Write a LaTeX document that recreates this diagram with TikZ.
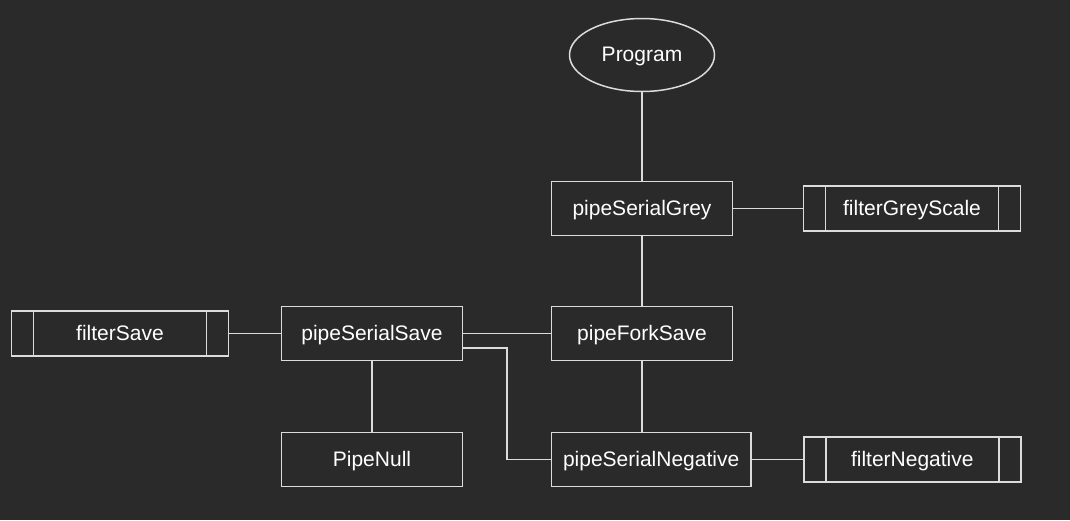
\documentclass[tikz,border=0pt]{standalone}
\usepackage{fontspec}
\setmainfont{Liberation Sans}
\usepackage{tikz}
\usetikzlibrary{positioning,shapes.geometric}
\definecolor{bg}{HTML}{2A2A2A}
\definecolor{ln}{HTML}{DCDCDC}
\tikzstyle{pipe} = [draw=ln, rectangle, outer sep=0pt, minimum width=181pt, minimum height=54pt, inner xsep=11.5pt]
\tikzstyle{filt} = [draw=ln, rectangle, outer sep=0pt, minimum width=217pt, minimum height=45pt]
\tikzstyle{prog} = [draw=ln, ellipse, outer sep=0pt, minimum width=145pt, minimum height=73pt, inner sep=0pt]

\begin{document}
\begin{tikzpicture}[x=1pt, y=1pt, line width=1.5pt, draw=ln]
  \tikzstyle{every node}=[text=white, text height=13.5pt, text depth=0pt, font=\fontsize{21pt}{25pt}\selectfont]
  \fill[bg] (0,0) rectangle (1070,-520);
  \useasboundingbox (0,0) rectangle (1070,-520);

  \node[prog] (P) at (642,-55) {Program};
  \node[pipe] (G) [below=90pt of P] {pipeSerialGrey};
  \node[filt] (GS) [right=71pt of G] {filterGreyScale};
  \node[pipe] (F) [below=71pt of G] {pipeForkSave};
  \node[pipe] (S) [left=89pt of F] {pipeSerialSave};
  \node[filt] (FS) [left=53pt of S] {filterSave};
  \node[pipe] (Null) [below=72pt of S] {PipeNull};
  \node[pipe] (N) [below=72pt of F.south west, anchor=north west] {pipeSerialNegative};
  \node[filt] (FN) [right=53pt of N] {filterNegative};

  % side bars of the filter boxes
  \foreach \f in {GS,FS,FN}
    \draw[ln] ([xshift=22pt]\f.north west) -- ([xshift=22pt]\f.south west)
              ([xshift=-22pt]\f.north east) -- ([xshift=-22pt]\f.south east);

  \draw[ln] (P) -- (G);
  \draw[ln] (G) -- (GS);
  \draw[ln] (G) -- (F);
  \draw[ln] (F) -- (S);
  \draw[ln] (S) -- (FS);
  \draw[ln] (S) -- (Null);
  \draw[ln] (F.south) -- (F.south |- N.north);
  \draw[ln] ([yshift=-14.5pt]S.east) -- ++(44.5pt,0) |- (N.west);
  \draw[ln] (N) -- (FN);
\end{tikzpicture}
\end{document}
